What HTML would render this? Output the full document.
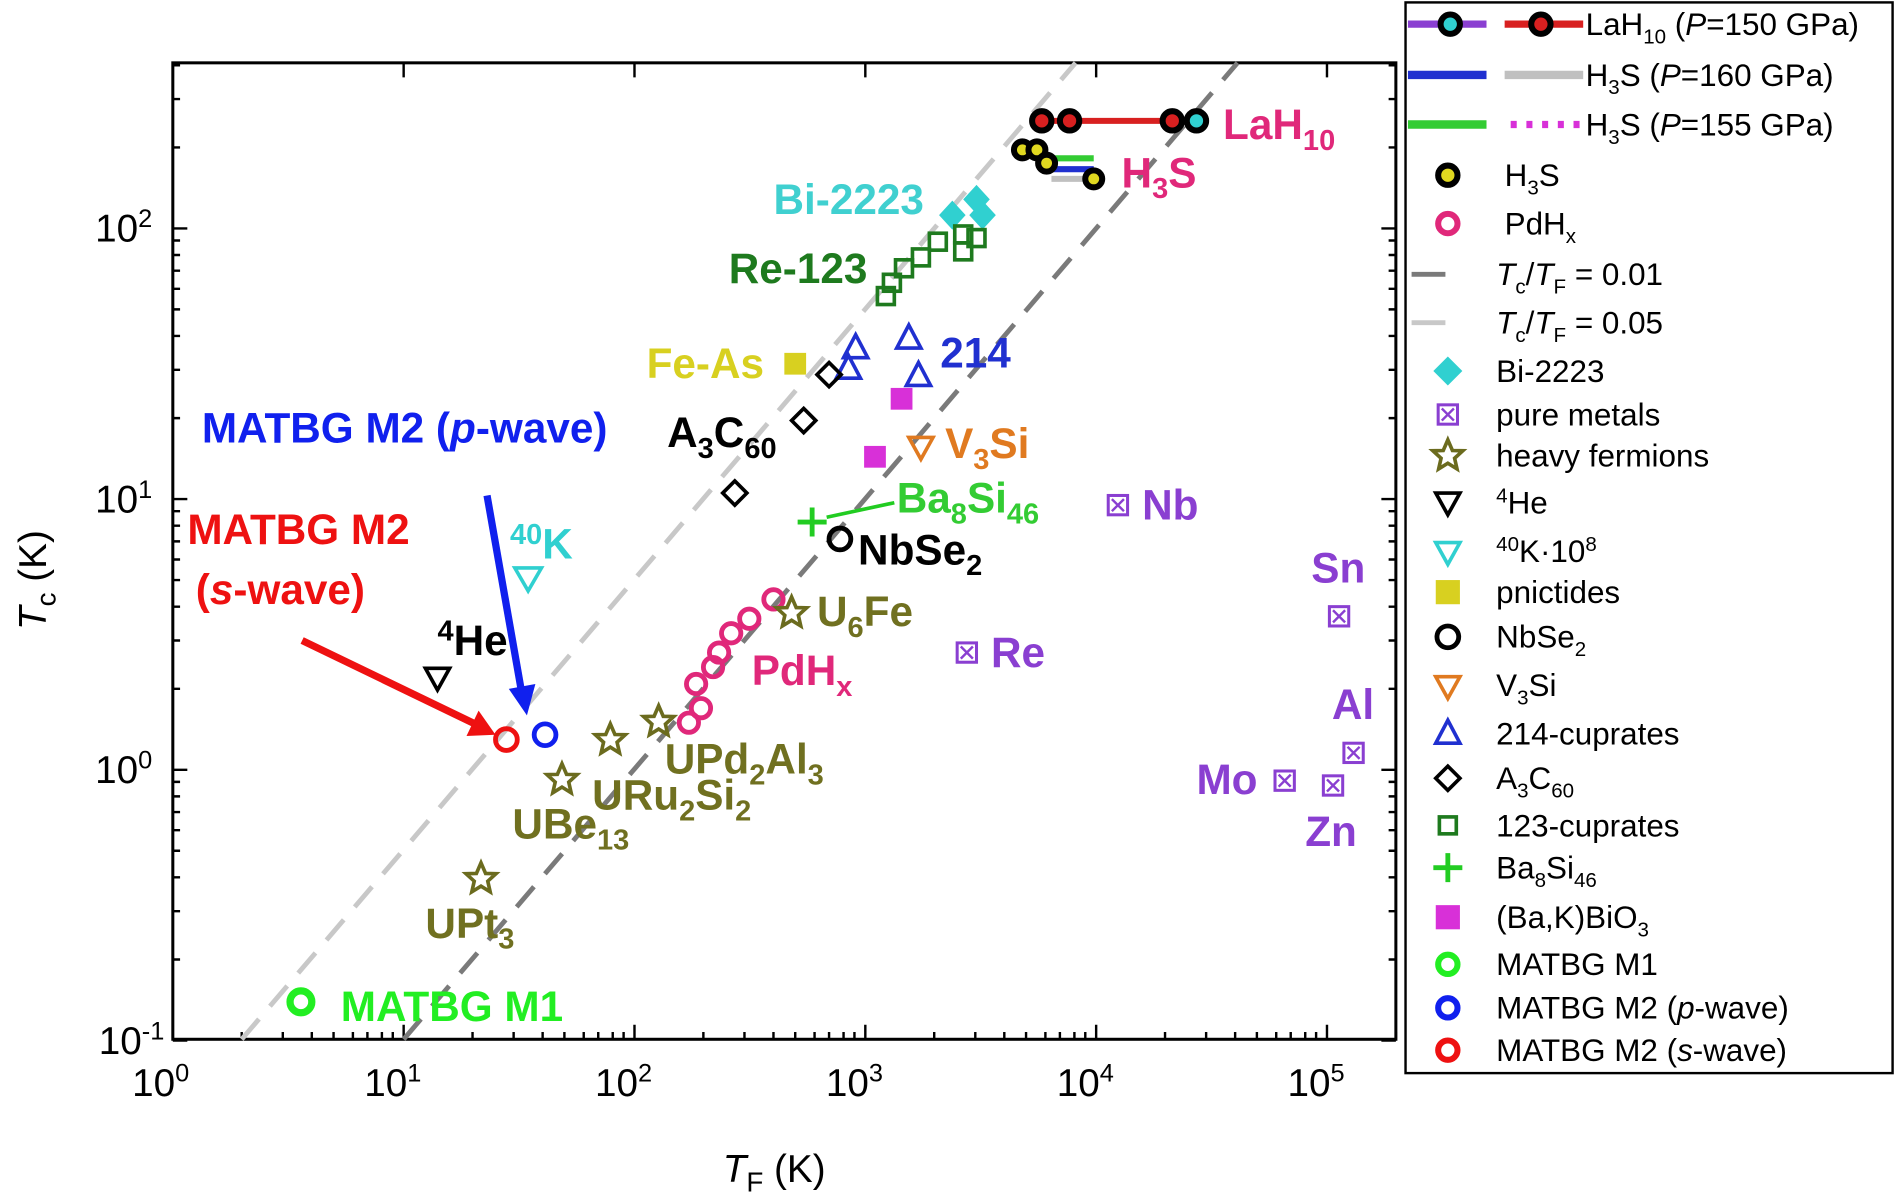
<!DOCTYPE html>
<html><head><meta charset="utf-8"><style>
html,body{margin:0;padding:0;background:#fff;}
svg{display:block;font-family:"Liberation Sans",Arial,sans-serif;}
.b{font-weight:bold;font-size:35px;}
.t{font-size:32px;fill:#000;}
.lg{font-size:26px;fill:#000;}
</style></head><body>
<svg width="1895" height="1200" viewBox="0 0 1568 993" preserveAspectRatio="none" xmlns="http://www.w3.org/2000/svg">
<defs>
<g id="star"><polygon points="0,-13 3.8,-4.2 12.4,-4 5.6,2.2 7.6,11 0,6.3 -7.6,11 -5.6,2.2 -12.4,-4 -3.8,-4.2" fill="none" stroke="#6b6b1e" stroke-width="3"/></g>
<g id="met"><rect x="-8" y="-8" width="16" height="16" fill="none" stroke="#8a3fd1" stroke-width="2.5"/><path d="M-5,-5L5,5M5,-5L-5,5" stroke="#8a3fd1" stroke-width="2"/></g>
<g id="sq"><rect x="-7" y="-7" width="14" height="14" fill="none" stroke="#1e7a1e" stroke-width="3"/></g>
<g id="tri"><polygon points="0,-11 10,8 -10,8" fill="none" stroke="#2030d0" stroke-width="3"/></g>
<g id="dia"><polygon points="0,-10 10,0 0,10 -10,0" fill="none" stroke="#000" stroke-width="3"/></g>
<g id="pd"><circle r="8" fill="none" stroke="#e0287a" stroke-width="4"/></g>
</defs>
<rect x="143" y="52" width="1012" height="808" fill="none" stroke="#000" stroke-width="2.5"/>
<g stroke="#000" stroke-width="2">
<path d="M143,860v-12M334,860v-12M525,860v-12M716,860v-12M907,860v-12M1098,860v-12M143,52v12M334,52v12M525,52v12M716,52v12M907,52v12M1098,52v12"/>
<path d="M200,860v-6M234,860v-6M258,860v-6M276,860v-6M292,860v-6M304,860v-6M316,860v-6M325,860v-6
M391,860v-6M425,860v-6M449,860v-6M467,860v-6M483,860v-6M495,860v-6M507,860v-6M516,860v-6
M582,860v-6M616,860v-6M640,860v-6M658,860v-6M674,860v-6M686,860v-6M698,860v-6M707,860v-6
M773,860v-6M807,860v-6M831,860v-6M849,860v-6M865,860v-6M877,860v-6M889,860v-6M898,860v-6
M964,860v-6M998,860v-6M1022,860v-6M1040,860v-6M1056,860v-6M1068,860v-6M1080,860v-6M1089,860v-6
M1155,860v-6"/>
<path d="M143,861h12M143,637h12M143,413h12M143,189h12M1155,861h-12M1155,637h-12M1155,413h-12M1155,189h-12"/>
<path d="M143,794h6M143,754h6M143,726h6M143,704h6M143,687h6M143,672h6M143,659h6M143,647h6
M143,570h6M143,530h6M143,502h6M143,480h6M143,463h6M143,448h6M143,435h6M143,423h6
M143,346h6M143,306h6M143,278h6M143,256h6M143,239h6M143,224h6M143,211h6M143,199h6
M143,122h6M143,82h6M143,54h6
M1155,794h-6M1155,754h-6M1155,726h-6M1155,704h-6M1155,687h-6M1155,672h-6M1155,659h-6M1155,647h-6
M1155,570h-6M1155,530h-6M1155,502h-6M1155,480h-6M1155,463h-6M1155,448h-6M1155,435h-6M1155,423h-6
M1155,346h-6M1155,306h-6M1155,278h-6M1155,256h-6M1155,239h-6M1155,224h-6M1155,211h-6M1155,199h-6
M1155,122h-6M1155,82h-6M1155,54h-6"/>
</g>
<g class="t" text-anchor="middle">
<text x="133" y="907">10<tspan dy="-12" font-size="21">0</tspan></text>
<text x="325" y="907">10<tspan dy="-12" font-size="21">1</tspan></text>
<text x="516" y="907">10<tspan dy="-12" font-size="21">2</tspan></text>
<text x="707" y="907">10<tspan dy="-12" font-size="21">3</tspan></text>
<text x="898" y="907">10<tspan dy="-12" font-size="21">4</tspan></text>
<text x="1089" y="907">10<tspan dy="-12" font-size="21">5</tspan></text>
</g>
<g class="t" text-anchor="end">
<text x="126" y="200">10<tspan dy="-12" font-size="21">2</tspan></text>
<text x="126" y="424">10<tspan dy="-12" font-size="21">1</tspan></text>
<text x="126" y="648">10<tspan dy="-12" font-size="21">0</tspan></text>
<text x="136" y="872">10<tspan dy="-12" font-size="21">-1</tspan></text>
</g>
<text x="598" y="978" class="t" font-size="36"><tspan font-style="italic">T</tspan><tspan font-size="23" dy="8">F</tspan><tspan dy="-8"> (K)</tspan></text>
<text transform="translate(38,480) rotate(-90)" class="t" font-size="36" text-anchor="middle"><tspan font-style="italic">T</tspan><tspan font-size="23" dy="8">c</tspan><tspan dy="-8"> (K)</tspan></text>
<line x1="200" y1="860" x2="890" y2="52" stroke="#c8c8c8" stroke-width="4" stroke-dasharray="22,14"/>
<line x1="334" y1="860" x2="1024" y2="52" stroke="#7a7a7a" stroke-width="4" stroke-dasharray="22,14"/>
<line x1="862" y1="100" x2="990" y2="100" stroke="#d82020" stroke-width="5"/>
<line x1="965" y1="100" x2="995" y2="100" stroke="#8a3fd1" stroke-width="5"/>
<g stroke="#000" stroke-width="5">
<circle cx="862" cy="100" r="8" fill="#d82020"/><circle cx="885" cy="100" r="8" fill="#d82020"/>
<circle cx="970" cy="100" r="8" fill="#d82020"/><circle cx="990" cy="100" r="8" fill="#30d0d0"/>
</g>
<line x1="862" y1="131" x2="905" y2="131" stroke="#33cc33" stroke-width="5"/>
<line x1="870" y1="140" x2="905" y2="140" stroke="#2030d0" stroke-width="5"/>
<line x1="870" y1="148" x2="905" y2="148" stroke="#c0c0c0" stroke-width="5"/>
<g stroke="#000" stroke-width="5" fill="#e0d820">
<circle cx="846" cy="124" r="7"/><circle cx="858" cy="124" r="7"/><circle cx="866" cy="135" r="7"/><circle cx="905" cy="148" r="7"/>
</g>
<g fill="#30d0d0"><polygon points="788,166 799,178 788,190 777,178"/><polygon points="808,153 819,165 808,177 797,165"/><polygon points="813,166 824,178 813,190 802,178"/></g>
<use href="#sq" x="733" y="245"/><use href="#sq" x="738" y="234"/><use href="#sq" x="748" y="222"/><use href="#sq" x="762" y="213"/><use href="#sq" x="776" y="200"/><use href="#sq" x="797" y="208"/><use href="#sq" x="808" y="197"/><use href="#sq" x="797" y="194"/>
<use href="#tri" x="708" y="288"/><use href="#tri" x="702" y="305"/><use href="#tri" x="752" y="280"/><use href="#tri" x="760" y="311"/>
<rect x="649" y="292" width="18" height="18" fill="#d8d020"/>
<use href="#dia" x="686" y="310"/><use href="#dia" x="665" y="348"/><use href="#dia" x="608" y="408"/>
<rect x="737" y="321" width="18" height="18" fill="#d830d8"/><rect x="715" y="369" width="18" height="18" fill="#d830d8"/>
<polygon points="752,362 772,362 762,380" fill="none" stroke="#e07a20" stroke-width="3"/>
<path d="M660,432h24M672,420v24" stroke="#22cc22" stroke-width="4"/>
<path d="M684,428L740,416" stroke="#22cc22" stroke-width="3"/>
<circle cx="695" cy="446" r="9" fill="none" stroke="#000" stroke-width="4"/>
<use href="#pd" x="570" y="598"/><use href="#pd" x="580" y="586"/><use href="#pd" x="576" y="566"/><use href="#pd" x="590" y="552"/><use href="#pd" x="595" y="540"/><use href="#pd" x="605" y="524"/><use href="#pd" x="620" y="512"/><use href="#pd" x="640" y="496"/>
<use href="#star" x="655" y="507"/><use href="#star" x="545" y="597"/><use href="#star" x="505" y="612"/><use href="#star" x="465" y="645"/><use href="#star" x="398" y="727"/>
<use href="#met" x="925" y="418"/><use href="#met" x="800" y="540"/><use href="#met" x="1108" y="510"/><use href="#met" x="1120" y="623"/><use href="#met" x="1063" y="646"/><use href="#met" x="1103" y="650"/>
<polygon points="352,553 372,553 362,571" fill="none" stroke="#000" stroke-width="3"/>
<polygon points="426,470 448,470 437,489" fill="none" stroke="#30d0d0" stroke-width="3"/>
<circle cx="419" cy="612" r="9" fill="none" stroke="#ee1111" stroke-width="4"/>
<circle cx="451" cy="608" r="9" fill="none" stroke="#1020ee" stroke-width="4"/>
<circle cx="249" cy="829" r="9" fill="none" stroke="#22ee22" stroke-width="6"/>
<line x1="250" y1="530" x2="395" y2="600" stroke="#ee1111" stroke-width="6"/>
<polygon points="410,608 386,609 396,588" fill="#ee1111"/>
<line x1="403" y1="410" x2="432" y2="575" stroke="#1020ee" stroke-width="6"/>
<polygon points="436,592 421,570 443,566" fill="#1020ee"/>
<g class="b">
<text x="1012" y="115" fill="#e0287a">LaH<tspan font-size="24" dy="9">10</tspan></text>
<text x="928" y="155" fill="#e0287a">H<tspan font-size="24" dy="9">3</tspan><tspan dy="-9">S</tspan></text>
<text x="640" y="177" fill="#40d0d0">Bi-2223</text>
<text x="603" y="234" fill="#1e7a1e">Re-123</text>
<text x="778" y="304" fill="#2030d0">214</text>
<text x="535" y="313" fill="#d8d020">Fe-As</text>
<text x="167" y="366" fill="#1020ee">MATBG M2 (<tspan font-style="italic">p</tspan>-wave)</text>
<text x="552" y="370" fill="#000">A<tspan font-size="24" dy="9">3</tspan><tspan dy="-9">C</tspan><tspan font-size="24" dy="9">60</tspan></text>
<text x="782" y="379" fill="#e07a20">V<tspan font-size="24" dy="9">3</tspan><tspan dy="-9">Si</tspan></text>
<text x="742" y="424" fill="#33cc33">Ba<tspan font-size="24" dy="9">8</tspan><tspan dy="-9">Si</tspan><tspan font-size="24" dy="9">46</tspan></text>
<text x="945" y="430" fill="#8a3fd1">Nb</text>
<text x="155" y="450" fill="#ee1111">MATBG M2</text>
<text x="422" y="462" fill="#30d0d0"><tspan font-size="24" dy="-12">40</tspan><tspan dy="12">K</tspan></text>
<text x="710" y="467" fill="#000">NbSe<tspan font-size="24" dy="9">2</tspan></text>
<text x="1085" y="482" fill="#8a3fd1">Sn</text>
<text x="162" y="500" fill="#ee1111">(<tspan font-style="italic">s</tspan>-wave)</text>
<text x="676" y="518" fill="#707020">U<tspan font-size="24" dy="9">6</tspan><tspan dy="-9">Fe</tspan></text>
<text x="362" y="542" fill="#000"><tspan font-size="24" dy="-12">4</tspan><tspan dy="12">He</tspan></text>
<text x="820" y="552" fill="#8a3fd1">Re</text>
<text x="622" y="567" fill="#e0287a">PdH<tspan font-size="24" dy="9">x</tspan></text>
<text x="1102" y="595" fill="#8a3fd1">Al</text>
<text x="550" y="640" fill="#707020">UPd<tspan font-size="24" dy="9">2</tspan><tspan dy="-9">Al</tspan><tspan font-size="24" dy="9">3</tspan></text>
<text x="990" y="657" fill="#8a3fd1">Mo</text>
<text x="490" y="670" fill="#707020">URu<tspan font-size="24" dy="9">2</tspan><tspan dy="-9">Si</tspan><tspan font-size="24" dy="9">2</tspan></text>
<text x="424" y="694" fill="#707020">UBe<tspan font-size="24" dy="9">13</tspan></text>
<text x="1080" y="700" fill="#8a3fd1">Zn</text>
<text x="352" y="776" fill="#707020">UPt<tspan font-size="24" dy="9">3</tspan></text>
<text x="282" y="845" fill="#22ee22">MATBG M1</text>
</g>
<rect x="1163" y="2" width="403" height="886" fill="#fff" stroke="#000" stroke-width="2"/>
<g>
<line x1="1165" y1="20" x2="1230" y2="20" stroke="#8a3fd1" stroke-width="6"/>
<line x1="1245" y1="20" x2="1310" y2="20" stroke="#d82020" stroke-width="6"/>
<circle cx="1200" cy="20" r="8" fill="#30d0d0" stroke="#000" stroke-width="5"/>
<circle cx="1275" cy="20" r="8" fill="#d82020" stroke="#000" stroke-width="5"/>
<text x="1312" y="29" class="lg">LaH<tspan font-size="17" dy="7">10</tspan><tspan dy="-7"> (</tspan><tspan font-style="italic">P</tspan>=150 GPa)</text>
<line x1="1165" y1="62" x2="1230" y2="62" stroke="#2030d0" stroke-width="7"/>
<line x1="1245" y1="62" x2="1310" y2="62" stroke="#c0c0c0" stroke-width="7"/>
<text x="1312" y="71" class="lg">H<tspan font-size="17" dy="7">3</tspan><tspan dy="-7">S (</tspan><tspan font-style="italic">P</tspan>=160 GPa)</text>
<line x1="1165" y1="103" x2="1230" y2="103" stroke="#33cc33" stroke-width="7"/>
<line x1="1250" y1="103" x2="1312" y2="103" stroke="#d830d8" stroke-width="6" stroke-dasharray="5,8"/>
<text x="1312" y="112" class="lg">H<tspan font-size="17" dy="7">3</tspan><tspan dy="-7">S (</tspan><tspan font-style="italic">P</tspan>=155 GPa)</text>
<circle cx="1198" cy="145" r="8" fill="#e0d820" stroke="#000" stroke-width="5"/>
<text x="1245" y="154" class="lg">H<tspan font-size="17" dy="7">3</tspan><tspan dy="-7">S</tspan></text>
<circle cx="1198" cy="185" r="8" fill="none" stroke="#e0287a" stroke-width="5"/>
<text x="1245" y="194" class="lg">PdH<tspan font-size="17" dy="7">x</tspan></text>
<line x1="1168" y1="227" x2="1196" y2="227" stroke="#7a7a7a" stroke-width="4"/>
<text x="1238" y="236" class="lg"><tspan font-style="italic">T</tspan><tspan font-size="17" dy="7">c</tspan><tspan dy="-7">/</tspan><tspan font-style="italic">T</tspan><tspan font-size="17" dy="7">F</tspan><tspan dy="-7"> = 0.01</tspan></text>
<line x1="1168" y1="267" x2="1196" y2="267" stroke="#c8c8c8" stroke-width="4"/>
<text x="1238" y="276" class="lg"><tspan font-style="italic">T</tspan><tspan font-size="17" dy="7">c</tspan><tspan dy="-7">/</tspan><tspan font-style="italic">T</tspan><tspan font-size="17" dy="7">F</tspan><tspan dy="-7"> = 0.05</tspan></text>
<polygon points="1198,295 1210,307 1198,319 1186,307" fill="#30d0d0"/>
<text x="1238" y="316" class="lg">Bi-2223</text>
<use href="#met" x="1198" y="343"/>
<text x="1238" y="352" class="lg">pure metals</text>
<use href="#star" x="1198" y="377"/>
<text x="1238" y="386" class="lg">heavy fermions</text>
<polygon points="1188,408 1208,408 1198,426" fill="none" stroke="#000" stroke-width="3"/>
<text x="1238" y="425" class="lg"><tspan font-size="17" dy="-9">4</tspan><tspan dy="9">He</tspan></text>
<polygon points="1188,449 1208,449 1198,467" fill="none" stroke="#30d0d0" stroke-width="3"/>
<text x="1238" y="465" class="lg"><tspan font-size="17" dy="-9">40</tspan><tspan dy="9">K·10</tspan><tspan font-size="17" dy="-9">8</tspan></text>
<rect x="1188" y="480" width="20" height="20" fill="#d8d020"/>
<text x="1238" y="499" class="lg">pnictides</text>
<circle cx="1198" cy="527" r="9" fill="none" stroke="#000" stroke-width="4"/>
<text x="1238" y="536" class="lg">NbSe<tspan font-size="17" dy="7">2</tspan></text>
<polygon points="1188,560 1208,560 1198,578" fill="none" stroke="#e07a20" stroke-width="3"/>
<text x="1238" y="576" class="lg">V<tspan font-size="17" dy="7">3</tspan><tspan dy="-7">Si</tspan></text>
<use href="#tri" x="1198" y="607"/>
<text x="1238" y="616" class="lg">214-cuprates</text>
<use href="#dia" x="1198" y="644"/>
<text x="1238" y="653" class="lg">A<tspan font-size="17" dy="7">3</tspan><tspan dy="-7">C</tspan><tspan font-size="17" dy="7">60</tspan></text>
<use href="#sq" x="1198" y="683"/>
<text x="1238" y="692" class="lg">123-cuprates</text>
<path d="M1186,718h24M1198,706v24" stroke="#22cc22" stroke-width="4"/>
<text x="1238" y="727" class="lg">Ba<tspan font-size="17" dy="7">8</tspan><tspan dy="-7">Si</tspan><tspan font-size="17" dy="7">46</tspan></text>
<rect x="1188" y="749" width="20" height="20" fill="#d830d8"/>
<text x="1238" y="768" class="lg">(Ba,K)BiO<tspan font-size="17" dy="7">3</tspan></text>
<circle cx="1198" cy="798" r="8" fill="none" stroke="#22ee22" stroke-width="5"/>
<text x="1238" y="807" class="lg">MATBG M1</text>
<circle cx="1198" cy="834" r="8" fill="none" stroke="#1020ee" stroke-width="5"/>
<text x="1238" y="843" class="lg">MATBG M2 (<tspan font-style="italic">p</tspan>-wave)</text>
<circle cx="1198" cy="869" r="8" fill="none" stroke="#ee1111" stroke-width="5"/>
<text x="1238" y="878" class="lg">MATBG M2 (<tspan font-style="italic">s</tspan>-wave)</text>
</g>
</svg>
</body></html>
